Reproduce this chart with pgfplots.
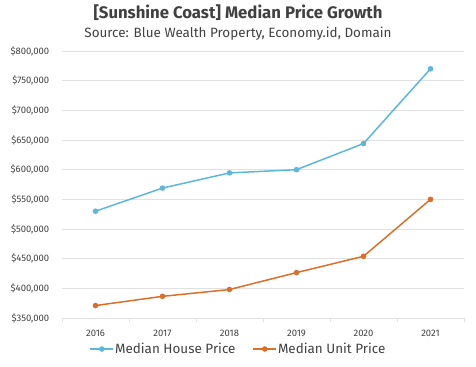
\documentclass[border=0pt]{standalone}
\usepackage{pgfplots}
\pgfplotsset{compat=1.18}
\usepackage{fontspec}
\setmainfont{Fira Sans}
\definecolor{housec}{RGB}{91,183,219}
\definecolor{unitc}{RGB}{221,110,40}
\definecolor{txt}{RGB}{64,64,64}
\definecolor{gridc}{RGB}{225,225,225}
\begin{document}
\begin{tikzpicture}[x=1bp,y=1bp]
\useasboundingbox (0,0) rectangle (476,366);
\node[font=\fontsize{16.8}{18}\selectfont\bfseries, text=txt] at (238,353) {[Sunshine Coast] Median Price Growth};
\node[font=\fontsize{13.5}{15}\selectfont, text=txt] at (238,332) {Source: Blue Wealth Property, Economy.id, Domain};
\begin{axis}[
  at={(62bp,48bp)}, anchor=south west,
  scale only axis, width=402bp, height=267bp,
  /pgf/number format/assume math mode=true,
  xmin=-0.5, xmax=5.5, ymin=350000, ymax=800000,
  xtick={0,1,2,3,4,5},
  xticklabels={2016,2017,2018,2019,2020,2021},
  minor xtick={-0.5,0.5,1.5,2.5,3.5,4.5,5.5},
  major x tick style={draw=none},
  minor tick length=4bp,
  tick align=outside,
  minor x tick style={gridc, line width=0.8bp},
  ytick={350000,400000,...,800000},
  y tick style={draw=none},
  ymajorgrids, grid style={gridc, line width=0.8bp},
  axis x line*=bottom, axis y line*=left,
  x axis line style={gridc, line width=0.8bp, -},
  y axis line style={draw=none},
  scaled y ticks=false,
  yticklabel={\$\pgfmathprintnumber[fixed,1000 sep={,},assume math mode=true]{\tick}},
  ticklabel style={font=\fontsize{9.5}{11}\selectfont, text=txt},
  xticklabel style={yshift=-4bp},
  yticklabel style={xshift=-5bp},
  legend style={at={(176bp,-31bp)}, anchor=center, draw=none, fill=none,
    font=\fontsize{13.5}{15}\selectfont, text=txt,
    /tikz/every odd column/.append style={column sep=0bp},
    /tikz/every even column/.append style={column sep=16bp},
    inner xsep=0bp, nodes={inner xsep=1bp}},
  legend columns=2,
  legend image code/.code={\draw[#1] (0bp,0bp) -- (23bp,0bp); \fill[#1] (11.5bp,0bp) circle (2bp);},
]
\addplot[housec, line width=1.5bp, mark=*, mark size=2bp] coordinates {(0,530000) (1,569000) (2,594500) (3,600000) (4,644000) (5,770000)};
\addlegendentry{Median House Price}
\addplot[unitc, line width=1.5bp, mark=*, mark size=2bp] coordinates {(0,371000) (1,386500) (2,398000) (3,426500) (4,454000) (5,550000)};
\addlegendentry{Median Unit Price}
\end{axis}
\end{tikzpicture}
\end{document}
